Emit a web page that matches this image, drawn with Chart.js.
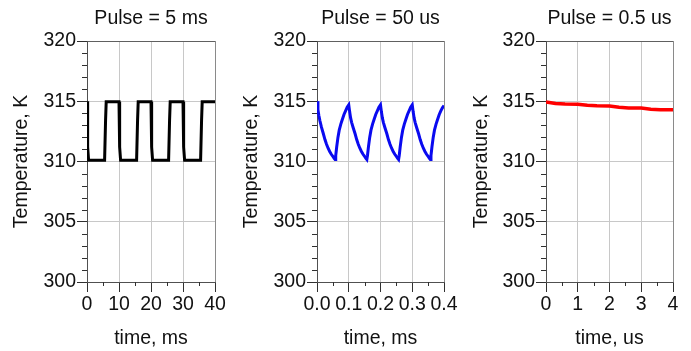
<!DOCTYPE html>
<html>
<head>
<meta charset="utf-8">
<script src="https://cdn.jsdelivr.net/npm/chart.js@4/dist/chart.umd.min.js"></script>
<style>
  html, body { margin: 0; padding: 0; background: #fff; }
  canvas { position: absolute; top: 0; }
</style>
</head>
<body>
<canvas id="p1" width="230" height="351" style="left:0px"></canvas>
<canvas id="p2" width="230" height="351" style="left:230px"></canvas>
<canvas id="p3" width="231" height="351" style="left:460px"></canvas>
<script>
// --- data ---
const titles = ['Pulse = 5 ms', 'Pulse = 50 us', 'Pulse = 0.5 us'];
const xTitles = ['time, ms', 'time, ms', 'time, us'];
const yTitle = 'Temperature, K';

const yTicks = [300, 305, 310, 315, 320];
const yMinor = [301, 302, 303, 304, 306, 307, 308, 309, 311, 312, 313, 314, 316, 317, 318, 319];

const xTicks1 = ['0', '10', '20', '30', '40'];
const xMinor1 = [5, 15, 25, 35];
const xTicks2 = ['0.0', '0.1', '0.2', '0.3', '0.4'];
const xMinor2 = [0.05, 0.15, 0.25, 0.35];
const xTicks3 = ['0', '1', '2', '3', '4'];
const xMinor3 = [0.5, 1.5, 2.5, 3.5];

// Pulse = 5 ms (time in ms)
const time5ms = [0, 0.2, 0.5, 5.5, 5.8, 6.0, 10, 10.2, 10.5, 15.5, 15.8, 16.0, 20, 20.2, 20.5,
                 25.5, 25.8, 26.0, 30, 30.2, 30.5, 35.5, 35.8, 36.0, 40];
const temp5ms = [315, 311.2, 310.1, 310.1, 313.4, 314.95, 314.95, 311.2, 310.1, 310.1, 313.4, 314.95, 314.95, 311.2, 310.1,
                 310.1, 313.4, 314.95, 314.95, 311.2, 310.1, 310.1, 313.4, 314.95, 314.95];

// Pulse = 50 us (time in ms)
const time50us = [0, 0.003, 0.006, 0.009, 0.014, 0.02, 0.025, 0.03, 0.035, 0.04, 0.045, 0.05, 0.054, 0.057,
                  0.059, 0.062, 0.066, 0.07, 0.075, 0.08, 0.085, 0.09, 0.095, 0.1,
                  0.103, 0.106, 0.109, 0.114, 0.12, 0.125, 0.13, 0.135, 0.14, 0.145, 0.15, 0.154, 0.157,
                  0.159, 0.162, 0.166, 0.17, 0.175, 0.18, 0.185, 0.19, 0.195, 0.2,
                  0.203, 0.206, 0.209, 0.214, 0.22, 0.225, 0.23, 0.235, 0.24, 0.245, 0.25, 0.254, 0.257,
                  0.259, 0.262, 0.266, 0.27, 0.275, 0.28, 0.285, 0.29, 0.295, 0.3,
                  0.303, 0.306, 0.309, 0.314, 0.32, 0.325, 0.33, 0.335, 0.34, 0.345, 0.35, 0.354, 0.357,
                  0.359, 0.362, 0.366, 0.37, 0.375, 0.38, 0.385, 0.39, 0.395, 0.4];
const temp50us = [315.0, 314.3, 313.8, 313.4, 312.85, 312.3, 311.82, 311.43, 311.1, 310.83, 310.6, 310.42, 310.27, 310.17,
                  310.5, 311.2, 312.0, 312.6, 313.1, 313.5, 313.9, 314.2, 314.5, 314.7,
                  314.1, 313.6, 313.25, 312.8, 312.3, 311.82, 311.43, 311.1, 310.83, 310.6, 310.42, 310.27, 310.17,
                  310.5, 311.2, 312.0, 312.6, 313.1, 313.5, 313.9, 314.2, 314.5, 314.7,
                  314.1, 313.6, 313.25, 312.8, 312.3, 311.82, 311.43, 311.1, 310.83, 310.6, 310.42, 310.27, 310.17,
                  310.5, 311.2, 312.0, 312.6, 313.1, 313.5, 313.9, 314.2, 314.5, 314.7,
                  314.1, 313.6, 313.25, 312.8, 312.3, 311.82, 311.43, 311.1, 310.83, 310.6, 310.42, 310.27, 310.17,
                  310.5, 311.2, 312.0, 312.6, 313.1, 313.5, 313.9, 314.2, 314.45, 314.65];

// Pulse = 0.5 us (time in us)
const time05us = [0, 0.3, 0.6, 1.0, 1.3, 1.6, 2.0, 2.3, 2.6, 3.0, 3.3, 3.6, 4.0];
const temp05us = [314.95, 314.82, 314.78, 314.76, 314.66, 314.62, 314.6, 314.5, 314.45, 314.43, 314.33, 314.3, 314.3];

const FONT = 'Liberation Sans, Arial, Helvetica, sans-serif';

// small ticks between the labelled ones
const minorTicks = {
  id: 'minorTicks',
  afterDraw(chart, args, opts) {
    const ctx = chart.ctx;
    const xs = chart.scales.x, ys = chart.scales.y;
    ctx.save();
    ctx.strokeStyle = '#303030';
    ctx.lineWidth = 1;
    ctx.beginPath();
    opts.yMinor.forEach(v => {
      const py = Math.round(ys.getPixelForValue(v)) + 0.5;
      ctx.moveTo(ys.right - 5, py);
      ctx.lineTo(ys.right, py);
    });
    opts.xMinor.forEach(v => {
      const px = Math.round(xs.getPixelForValue(v)) + 0.5;
      ctx.moveTo(px, xs.top);
      ctx.lineTo(px, xs.top + 4);
    });
    ctx.stroke();
    ctx.restore();
  }
};

function makePanel(id, opt) {
  const pts = opt.time.map((t, i) => ({ x: t, y: opt.temp[i] }));
  return new Chart(document.getElementById(id), {
    type: 'line',
    data: {
      datasets: [{
        data: pts,
        borderColor: opt.color,
        borderWidth: opt.width,
        pointRadius: 0,
        tension: 0,
        fill: false
      }]
    },
    options: {
      responsive: false,
      animation: false,
      layout: { padding: { left: 0, right: opt.padRight, top: 0, bottom: 0 } },
      plugins: {
        legend: { display: false },
        tooltip: { enabled: false },
        title: {
          display: true,
          text: opt.title,
          fullSize: false,
          color: '#111',
          font: { family: FONT, size: 19.5, weight: 'normal' },
          padding: { top: 6.5, bottom: 11.1 }
        },
        minorTicks: { yMinor: yMinor, xMinor: opt.xMinor }
      },
      scales: {
        x: {
          type: 'linear',
          min: opt.xMin,
          max: opt.xMax,
          afterFit: s => { s.height = 69; },
          ticks: {
            stepSize: opt.xStep,
            autoSkip: false,
            maxRotation: 0,
            minRotation: 0,
            padding: 1,
            color: '#111',
            font: { family: FONT, size: 19.5 },
            callback: (v, i) => opt.xLabels[i]
          },
          grid: {
            color: c => (c.index === opt.xLabels.length - 1 ? '#8a8a8a' : '#c8c8c8'),
            tickColor: '#303030',
            tickLength: 10
          },
          border: { color: '#505050' },
          title: {
            display: true,
            text: opt.xTitle,
            color: '#111',
            font: { family: FONT, size: 19.5 },
            padding: { top: 0, bottom: 1 }
          }
        },
        y: {
          min: 300,
          max: 320,
          afterFit: s => { s.width = opt.yWidth; },
          ticks: {
            stepSize: 5,
            padding: 1,
            color: '#111',
            font: { family: FONT, size: 19.5 },
            callback: (v, i) => String(yTicks[i])
          },
          grid: {
            color: c => (c.index === yTicks.length - 1 ? '#606060' : '#c8c8c8'),
            tickColor: '#303030',
            tickLength: 10
          },
          border: { color: '#505050' },
          title: {
            display: true,
            text: yTitle,
            color: '#111',
            font: { family: FONT, size: 19.5 },
            padding: { top: 10, bottom: 0 }
          }
        }
      }
    },
    plugins: [minorTicks]
  });
}

makePanel('p1', {
  title: titles[0], xTitle: xTitles[0], time: time5ms, temp: temp5ms,
  color: '#000000', width: 3, xMin: 0, xMax: 40, xStep: 10,
  xLabels: xTicks1, xMinor: xMinor1, yWidth: 87, padRight: 15
});
makePanel('p2', {
  title: titles[1], xTitle: xTitles[1], time: time50us, temp: temp50us,
  color: '#0a0af0', width: 3, xMin: 0, xMax: 0.4, xStep: 0.1,
  xLabels: xTicks2, xMinor: xMinor2, yWidth: 87, padRight: 16
});
makePanel('p3', {
  title: titles[2], xTitle: xTitles[2], time: time05us, temp: temp05us,
  color: '#ff0000', width: 3.5, xMin: 0, xMax: 4, xStep: 1,
  xLabels: xTicks3, xMinor: xMinor3, yWidth: 86, padRight: 18
});
</script>
</body>
</html>
